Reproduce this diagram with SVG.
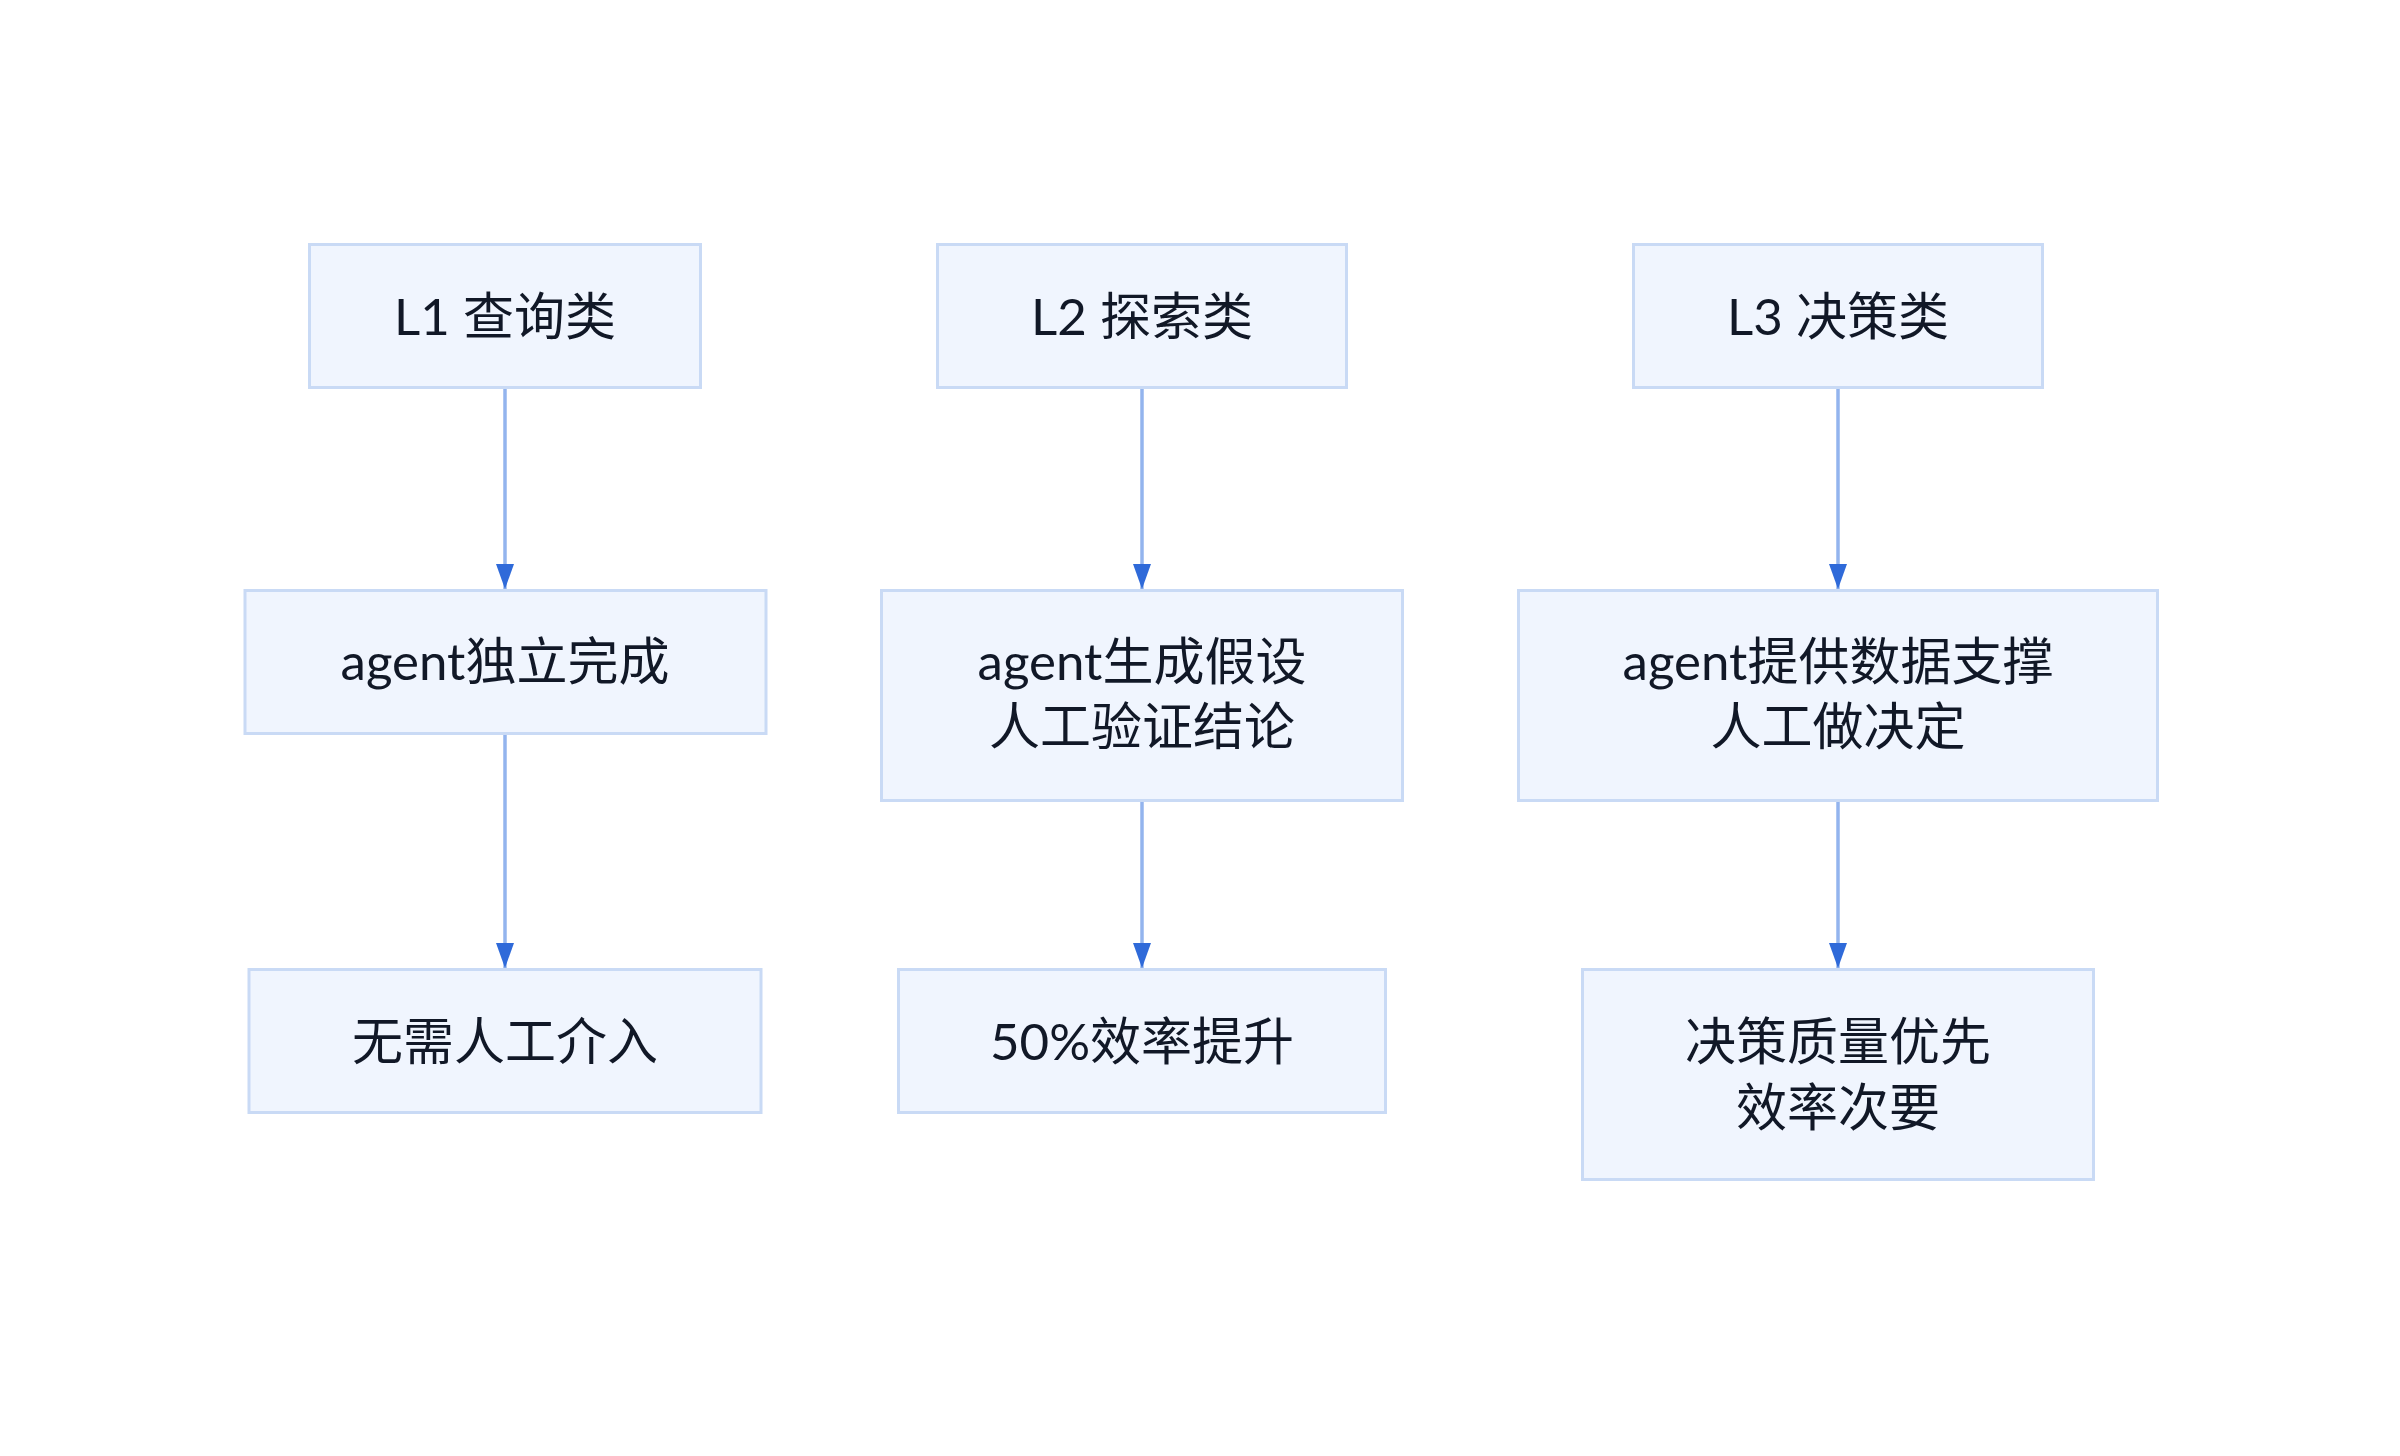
<svg xmlns="http://www.w3.org/2000/svg" width="2400" height="1456" viewBox="0 0 2400 1456">
<style>
.node rect{fill:#f0f5fe;stroke:#c9daf5;stroke-width:3}
.node text{font-family:Lato,"Noto Sans CJK SC",sans-serif;font-size:51px;fill:#111827;text-anchor:middle}
.edge{stroke:#93b4ee;stroke-width:3.5;fill:none}
</style>
<defs>
<marker id="arr" viewBox="0 0 25 18" refX="25" refY="9" markerWidth="25" markerHeight="18" markerUnits="userSpaceOnUse" orient="auto">
<path d="M0,0 L25,9 L0,18 z" fill="#2f6ad9"/>
</marker>
</defs>
<rect width="2400" height="1456" fill="#ffffff"/>
<g id="connectors">
<line class="edge" x1="505" y1="389" x2="505" y2="589" marker-end="url(#arr)"/>
<line class="edge" x1="505" y1="735" x2="505" y2="968" marker-end="url(#arr)"/>
<line class="edge" x1="1142" y1="389" x2="1142" y2="589" marker-end="url(#arr)"/>
<line class="edge" x1="1142" y1="802" x2="1142" y2="968" marker-end="url(#arr)"/>
<line class="edge" x1="1838" y1="389" x2="1838" y2="589" marker-end="url(#arr)"/>
<line class="edge" x1="1838" y1="802" x2="1838" y2="968" marker-end="url(#arr)"/>
</g>
<g id="L1" class="node"><rect x="309.5" y="244.5" width="391" height="143"/><text x="505" y="335">L1 查询类</text></g>
<g id="L2" class="node"><rect x="937.5" y="244.5" width="409" height="143"/><text x="1142" y="335">L2 探索类</text></g>
<g id="L3" class="node"><rect x="1633.5" y="244.5" width="409" height="143"/><text x="1838" y="335">L3 决策类</text></g>
<g id="A1" class="node"><rect x="245" y="590.5" width="521" height="143"/><text x="505" y="680">agent独立完成</text></g>
<g id="A2" class="node"><rect x="881.5" y="590.5" width="521" height="210"/><text x="1142" y="680">agent生成假设<tspan x="1142" dy="65">人工验证结论</tspan></text></g>
<g id="A3" class="node"><rect x="1518.5" y="590.5" width="639" height="210"/><text x="1838" y="680">agent提供数据支撑<tspan x="1838" dy="65">人工做决定</tspan></text></g>
<g id="R1" class="node"><rect x="249" y="969.5" width="512" height="143"/><text x="505" y="1060">无需人工介入</text></g>
<g id="R2" class="node"><rect x="898.5" y="969.5" width="487" height="143"/><text x="1142" y="1060">50%效率提升</text></g>
<g id="R3" class="node"><rect x="1582.5" y="969.5" width="511" height="210"/><text x="1838" y="1060">决策质量优先<tspan x="1838" dy="66">效率次要</tspan></text></g>
</svg>
